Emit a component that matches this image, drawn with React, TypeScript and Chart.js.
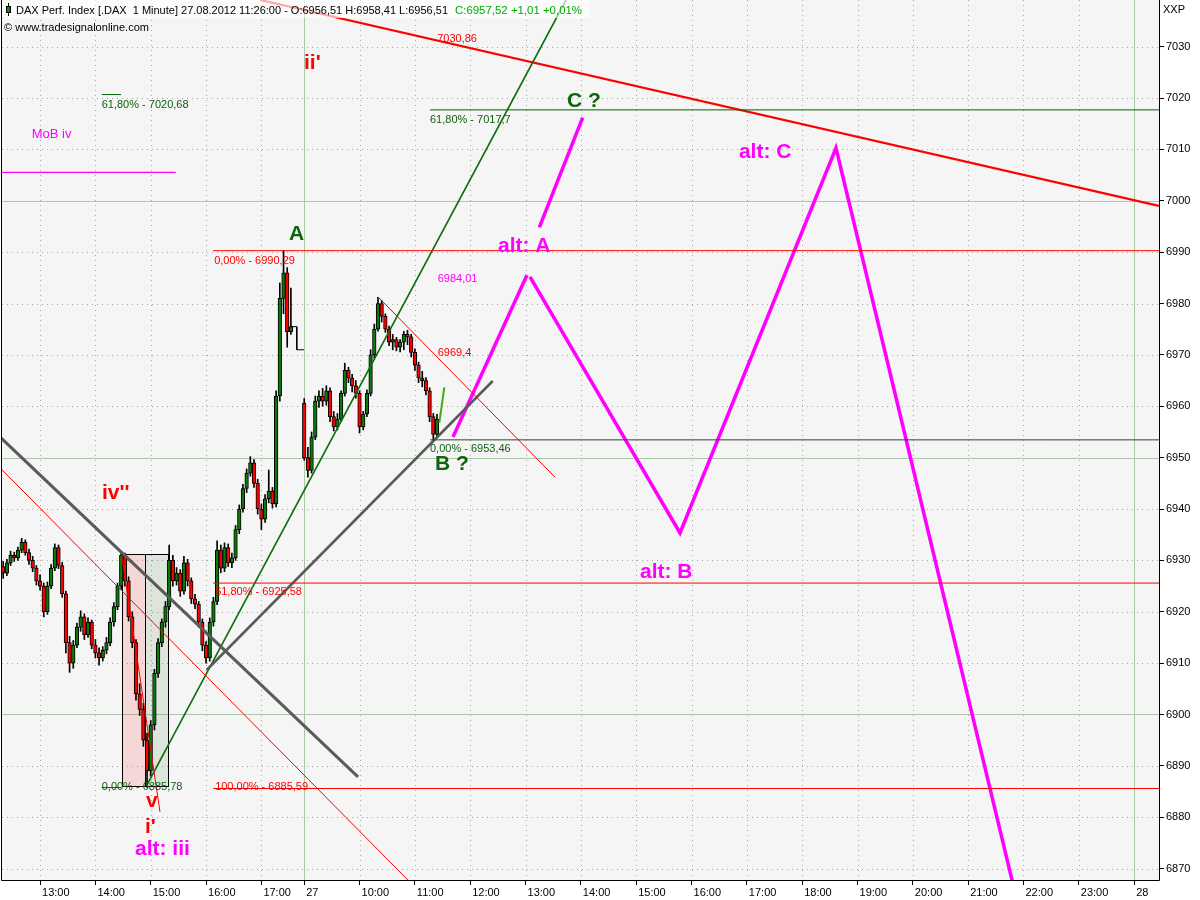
import React, { useEffect, useRef } from 'react';
import { Chart, registerables } from 'chart.js';

Chart.register(...registerables);

const FONT = '"Liberation Sans", Arial, Helvetica, sans-serif';
const RED = '#ff0000';
const DKGREEN = '#006400';
const LBLGREEN = '#0e5e0e';
const MAGENTA = '#ff00ff';
const GRAY = '#5a5a5a';
const UP = '#0a7a0a';
const DOWN = '#ff0000';

// ---- axes ----
const Y_MIN = 6867.78;
const Y_MAX = 7039.09;
const yTickValues = [6870, 6880, 6890, 6900, 6910, 6920, 6930, 6940, 6950, 6960, 6970, 6980, 6990, 7000, 7010, 7020, 7030];

// x = hours on a continuous session timeline (27.08 09:00 = 9)
const PREV_DAY_SHIFT = 8.774;
const X_MIN = 3.538;
const X_MAX = 24.449;
const prevDayTickHours = [13, 14, 15, 16, 17];
const day27TickHours = [9, 10, 11, 12, 13, 14, 15, 16, 17, 18, 19, 20, 21, 22, 23, 24];
const xTickLabels = ['13:00', '14:00', '15:00', '16:00', '17:00', '27', '10:00', '11:00', '12:00', '13:00', '14:00', '15:00', '16:00', '17:00', '18:00', '19:00', '20:00', '21:00', '22:00', '23:00', '28'];
const xTickValues = [...prevDayTickHours.map((h) => h - PREV_DAY_SHIFT), ...day27TickHours];

// ---- candles [open, high, low, close] ----
const prevDayStartHour = 12 + 20 / 60;
const day27StartHour = 9;
const barMinutes = 4;

const prevDayBars = [
  [6928.8, 6929.8, 6926.5, 6927.5], [6927.5, 6930.2, 6927.0, 6929.5], [6929.5, 6931.8, 6929.0, 6931.0], [6931.0, 6931.6, 6929.8, 6930.5],
  [6930.5, 6932.6, 6930.0, 6932.0], [6932.0, 6934.3, 6931.5, 6933.5], [6933.5, 6934.0, 6931.0, 6931.5], [6931.5, 6932.2, 6929.2, 6930.0],
  [6930.0, 6930.8, 6927.8, 6928.5], [6928.5, 6929.0, 6925.2, 6926.0], [6926.0, 6927.2, 6924.2, 6925.0], [6925.0, 6925.6, 6919.0, 6920.0],
  [6920.0, 6925.8, 6919.5, 6925.0], [6925.0, 6929.2, 6924.5, 6928.5], [6928.5, 6933.2, 6928.0, 6932.5], [6932.5, 6933.0, 6928.4, 6929.0],
  [6929.0, 6929.6, 6922.8, 6923.5], [6923.5, 6924.0, 6912.0, 6914.0], [6914.0, 6915.2, 6908.2, 6910.0], [6910.0, 6914.4, 6909.0, 6913.5],
  [6913.5, 6917.8, 6913.0, 6917.0], [6917.0, 6920.2, 6916.2, 6919.0], [6919.0, 6919.6, 6914.6, 6915.5], [6915.5, 6918.8, 6915.0, 6918.0],
  [6918.0, 6918.4, 6912.8, 6913.5], [6913.5, 6914.6, 6911.0, 6912.0], [6912.0, 6913.0, 6909.6, 6911.0], [6911.0, 6913.2, 6910.4, 6912.5],
  [6912.5, 6915.0, 6911.8, 6914.0], [6914.0, 6918.8, 6913.4, 6918.0], [6918.0, 6921.8, 6917.2, 6921.0], [6921.0, 6925.6, 6920.4, 6925.0],
  [6925.0, 6931.5, 6924.4, 6931.0], [6931.0, 6931.4, 6925.0, 6926.0], [6926.0, 6926.8, 6918.2, 6919.0], [6919.0, 6920.0, 6913.0, 6914.0],
  [6914.0, 6914.6, 6902.8, 6904.0], [6904.0, 6906.0, 6899.8, 6901.0], [6901.0, 6902.2, 6893.8, 6895.0], [6895.0, 6896.4, 6885.8, 6889.0],
  [6889.0, 6898.8, 6888.0, 6898.0], [6898.0, 6908.8, 6897.0, 6908.0], [6908.0, 6914.8, 6907.2, 6914.0], [6914.0, 6918.6, 6913.2, 6918.0],
  [6918.0, 6922.0, 6917.0, 6921.0], [6921.0, 6933.0, 6920.4, 6930.0], [6930.0, 6931.0, 6925.0, 6926.0], [6926.0, 6928.6, 6925.2, 6927.5],
  [6927.5, 6928.2, 6923.0, 6924.0], [6924.0, 6930.8, 6923.4, 6929.5], [6929.5, 6930.2, 6925.0, 6926.0], [6926.0, 6926.6, 6921.6, 6922.5],
  [6922.5, 6923.4, 6920.6, 6921.5], [6921.5, 6922.0, 6917.0, 6918.0], [6918.0, 6918.6, 6912.4, 6913.5], [6913.5, 6914.2, 6910.0, 6911.0],
  [6911.0, 6918.8, 6910.4, 6918.0], [6918.0, 6922.8, 6917.2, 6922.0], [6922.0, 6933.8, 6921.4, 6932.0], [6932.0, 6933.0, 6927.6, 6928.5],
  [6928.5, 6933.4, 6927.8, 6932.5], [6932.5, 6933.2, 6928.8, 6929.5], [6929.5, 6931.4, 6928.6, 6930.5], [6930.5, 6936.8, 6930.0, 6936.0],
  [6936.0, 6940.8, 6935.2, 6940.0], [6940.0, 6944.8, 6939.4, 6944.0], [6944.0, 6947.8, 6943.2, 6947.0], [6947.0, 6950.2, 6946.4, 6949.0],
  [6949.0, 6949.6, 6944.2, 6945.0], [6945.0, 6945.8, 6939.0, 6940.0], [6940.0, 6941.0, 6936.0, 6938.0], [6938.0, 6942.8, 6937.4, 6942.0],
  [6942.0, 6947.6, 6941.2, 6943.5], [6943.5, 6944.2, 6940.2, 6941.0], [6941.0, 6963.0, 6940.4, 6962.0], [6962.0, 6984.0, 6961.0, 6981.0],
  [6981.0, 6990.3, 6978.0, 6986.0], [6986.0, 6987.0, 6971.5, 6974.5], [6974.5, 6983.0, 6974.0, 6975.5],
];

// after-close prints of the previous session: [session hour, price]
const afterClosePrints = [[17.53, 6975.5], [17.64, 6975.5], [17.64, 6971.0], [17.77, 6971.0]];

const day27Bars = [
  [6960.6, 6961.5, 6949.5, 6950.0], [6950.0, 6952.0, 6946.2, 6947.5], [6947.5, 6955.0, 6947.0, 6954.0], [6954.0, 6962.0, 6953.5, 6961.0],
  [6961.0, 6963.0, 6959.8, 6962.0], [6962.0, 6963.5, 6960.0, 6961.0], [6961.0, 6964.0, 6960.2, 6963.0], [6963.0, 6963.6, 6957.0, 6958.0],
  [6958.0, 6959.0, 6955.2, 6956.0], [6956.0, 6958.6, 6955.4, 6957.5], [6957.5, 6963.0, 6957.0, 6962.5], [6962.5, 6968.4, 6962.0, 6967.0],
  [6967.0, 6967.6, 6964.6, 6965.5], [6965.5, 6966.2, 6962.8, 6964.0], [6964.0, 6965.0, 6961.6, 6962.5], [6962.5, 6963.0, 6954.8, 6956.0],
  [6956.0, 6959.0, 6955.4, 6958.5], [6958.5, 6963.2, 6958.0, 6962.5], [6962.5, 6971.0, 6962.0, 6970.0], [6970.0, 6976.0, 6969.4, 6975.0],
  [6975.0, 6981.2, 6974.6, 6980.0], [6980.0, 6980.6, 6976.4, 6977.5], [6977.5, 6978.0, 6974.4, 6975.0], [6975.0, 6975.6, 6971.8, 6972.5],
  [6972.5, 6974.0, 6971.0, 6973.0], [6973.0, 6973.4, 6970.8, 6971.5], [6971.5, 6973.0, 6970.6, 6972.5], [6972.5, 6974.6, 6971.0, 6974.0],
  [6974.0, 6974.8, 6972.0, 6973.5], [6973.5, 6974.0, 6969.6, 6970.5], [6970.5, 6971.2, 6967.0, 6968.0], [6968.0, 6968.6, 6964.6, 6965.5],
  [6965.5, 6966.8, 6963.8, 6965.0], [6965.0, 6965.6, 6962.2, 6963.0], [6963.0, 6963.6, 6957.0, 6958.0], [6958.0, 6958.6, 6953.46, 6954.5],
  [6954.5, 6958.41, 6954.0, 6957.52],
];

// ---- drawn analysis lines: [time, price] points ----
const redResistance = [[8.205, 7039.09], [24.449, 6999.0]];
const greenTrend = [[6.159, 6886.3], [13.731, 7039.09]];
const grayLine1 = [[3.502, 6954.02], [9.972, 6887.84]];
const grayLine2 = [[7.238, 6908.66], [12.407, 6964.92]];
const redThinLong = [[3.502, 6948.03], [11.0, 6866.4]];
const redSteep = [[5.702, 6931.05], [6.394, 6881.02]];
const redFromPeak = [[10.334, 6981.3], [13.533, 6946.2]];
const magentaA = [[11.689, 6954.0], [13.027, 6985.55]];
const magentaABC = [[13.081, 6985.17], [15.792, 6935.33], [18.611, 7010.28], [21.832, 6866.0]];
const magentaC = [[13.249, 6994.84], [14.033, 7016.18]];
const lightGreenTick = [[11.442, 6956.8], [11.532, 6963.7]];
const fib7017 = [[11.273, 7017.7], [24.449, 7017.7]];
const fib6990 = [[7.354, 6990.29], [24.449, 6990.29]];
const fib6953 = [[11.273, 6953.46], [24.449, 6953.46]];
const fib6925 = [[7.354, 6925.58], [24.449, 6925.58]];
const fib6885 = [[7.354, 6885.59], [24.449, 6885.59]];
const low6885 = [[5.34, 6885.78], [5.689, 6885.78]];
const fib7020 = [[5.34, 7020.68], [5.689, 7020.68]];
const mobIv = [[3.538, 7005.55], [6.678, 7005.55]];

// boxes: [t0, t1, pLow, pHigh]
const pinkBox = [5.712, 6.123, 6886.1, 6931.2];
const greenBox = [6.123, 6.544, 6886.1, 6931.2];

// labels: [text, time, price]
const bigRed = [["ii'", 8.996, 7025.66], ["iv''", 5.346, 6941.95], ['v', 6.141, 6882.0], ["i'", 6.123, 6876.93]];
const bigGreen = [['A', 8.727, 6992.37], ['B ?', 11.363, 6947.6], ['C ?', 13.749, 7018.26]];
const bigMagenta = [['alt: iii', 5.942, 6872.65], ['alt: A', 12.503, 6990.03], ['alt: B', 15.069, 6926.6], ['alt: C', 16.857, 7008.33]];
const smallRed = [['7030,86', 11.403, 7030.92], ['0,00% - 6990,29', 7.372, 6987.7], ['6969,4', 11.413, 6969.79], ['61,80% - 6925,58', 7.39, 6923.27], ['100,00% - 6885,59', 7.39, 6885.3]];
const smallGreen = [['61,80% - 7017,7', 11.273, 7015.05], ['0,00% - 6953,46', 11.273, 6951.16], ['0,00% - 6885,78', 5.34, 6885.3], ['61,80% - 7020,68', 5.34, 7018.0]];
const smallMagenta = [['6984,01', 11.413, 6984.25]];
const mobLabel = ['MoB iv', 4.075, 7012.17];

const headerMain = 'DAX Perf. Index [.DAX  1 Minute] 27.08.2012 11:26:00 - O:6956,51 H:6958,41 L:6956,51';
const headerQuote = 'C:6957,52 +1,01 +0,01%';
const copyright = '\u00A9 www.tradesignalonline.com';

function buildCandles() {
  const out = [];
  prevDayBars.forEach((b, i) => out.push({ t: prevDayStartHour + (i * barMinutes) / 60 - PREV_DAY_SHIFT, b }));
  day27Bars.forEach((b, i) => out.push({ t: day27StartHour + (i * barMinutes) / 60, b }));
  return out;
}

function seg(pts, color, width) {
  return {
    type: 'line',
    data: pts.map(([x, y]) => ({ x, y })),
    borderColor: color,
    borderWidth: width,
    pointRadius: 0,
    pointHoverRadius: 0,
    fill: false,
    tension: 0,
    order: -1,
    borderCapStyle: 'butt',
  };
}

function drawText(ctx, text, x, y, font, color, targetW) {
  ctx.save();
  ctx.font = font;
  ctx.fillStyle = color;
  ctx.textAlign = 'left';
  ctx.textBaseline = 'alphabetic';
  if (targetW) {
    const w = ctx.measureText(text).width;
    ctx.translate(x, y);
    ctx.scale(targetW / w, 1);
    ctx.fillText(text, 0, 0);
  } else {
    ctx.fillText(text, x, y);
  }
  ctx.restore();
}

const decorPlugin = {
  id: 'decor',
  beforeDraw(chart) {
    const { ctx, chartArea: a } = chart;
    ctx.save();
    ctx.fillStyle = '#ffffff';
    ctx.fillRect(0, 0, chart.width, chart.height);
    ctx.fillStyle = '#f5f5f5';
    ctx.fillRect(a.left, a.top, a.right - a.left, a.bottom - a.top);
    ctx.restore();
  },
  beforeDatasetsDraw(chart) {
    const { ctx, chartArea: a, scales } = chart;
    const xs = scales.x;
    const ys = scales.y;
    ctx.save();
    ctx.lineWidth = 1;
    yTickValues.forEach((v) => {
      const y = Math.round(ys.getPixelForValue(v)) + 0.5;
      ctx.beginPath();
      if (v % 50 === 0) {
        ctx.setLineDash([]);
        ctx.strokeStyle = '#abc7a7';
      } else {
        ctx.setLineDash([1, 4]);
        ctx.strokeStyle = '#a8a8a8';
      }
      ctx.moveTo(a.left, y);
      ctx.lineTo(a.right, y);
      ctx.stroke();
    });
    xTickValues.forEach((t, i) => {
      const x = Math.round(xs.getPixelForValue(t)) + 0.5;
      const dayLine = xTickLabels[i] === '27' || xTickLabels[i] === '28';
      ctx.beginPath();
      if (dayLine) {
        ctx.setLineDash([]);
        ctx.strokeStyle = '#abc7a7';
      } else {
        ctx.setLineDash([1, 4]);
        ctx.strokeStyle = '#a8a8a8';
      }
      ctx.moveTo(x, a.top);
      ctx.lineTo(x, a.bottom);
      ctx.stroke();
    });
    ctx.setLineDash([]);
    const box = (bx, fill) => {
      const x0 = Math.round(xs.getPixelForValue(bx[0])) + 0.5;
      const x1 = Math.round(xs.getPixelForValue(bx[1])) + 0.5;
      const y0 = Math.round(ys.getPixelForValue(bx[3])) + 0.5;
      const y1 = Math.round(ys.getPixelForValue(bx[2])) + 0.5;
      ctx.fillStyle = fill;
      ctx.fillRect(x0, y0, x1 - x0, y1 - y0);
      ctx.strokeStyle = '#000';
      ctx.strokeRect(x0, y0, x1 - x0, y1 - y0);
    };
    box(pinkBox, 'rgba(255,0,0,0.12)');
    box(greenBox, 'rgba(0,80,0,0.10)');
    ctx.restore();
  },
  afterDatasetsDraw(chart) {
    const { ctx, chartArea: a, scales } = chart;
    const xs = scales.x;
    const ys = scales.y;
    const P = (t) => xs.getPixelForValue(t);
    const Q = (v) => ys.getPixelForValue(v);
    ctx.save();
    ctx.strokeStyle = '#000';
    ctx.lineWidth = 1;
    ctx.beginPath();
    ctx.moveTo(1.5, 0);
    ctx.lineTo(1.5, a.bottom + 0.5);
    ctx.lineTo(a.right + 0.5, a.bottom + 0.5);
    ctx.lineTo(a.right + 0.5, 0);
    ctx.stroke();

    const big = 'bold 21px ' + FONT;
    const small = '11px ' + FONT;
    bigRed.forEach(([s, t, v]) => drawText(ctx, s, P(t), Q(v), big, RED));
    bigGreen.forEach(([s, t, v]) => drawText(ctx, s, P(t), Q(v), big, '#0f650f'));
    bigMagenta.forEach(([s, t, v]) => drawText(ctx, s, P(t), Q(v), big, MAGENTA));
    smallRed.forEach(([s, t, v]) => drawText(ctx, s, P(t), Q(v), small, RED));
    smallGreen.forEach(([s, t, v]) => drawText(ctx, s, P(t), Q(v), small, LBLGREEN));
    smallMagenta.forEach(([s, t, v]) => drawText(ctx, s, P(t), Q(v), small, MAGENTA));
    drawText(ctx, mobLabel[0], P(mobLabel[1]), Q(mobLabel[2]), '13px ' + FONT, MAGENTA);

    ctx.fillStyle = 'rgba(255,255,255,0.65)';
    ctx.fillRect(2, 0, 588, 18);
    ctx.fillStyle = '#000';
    ctx.fillRect(8, 3, 1, 13);
    ctx.fillStyle = '#0a8a0a';
    ctx.fillRect(6, 6, 5, 7);
    ctx.strokeStyle = '#000';
    ctx.strokeRect(6.5, 6.5, 4, 6);
    drawText(ctx, headerMain, 16, 14, small, '#000', 432);
    drawText(ctx, headerQuote, 455, 14, small, '#00aa00', 127);
    drawText(ctx, copyright, 4, 31, small, '#000', 145);
    drawText(ctx, 'XXP', 1163, 13, small, '#000');
    ctx.restore();
  },
};

export default function App() {
  const ref = useRef(null);
  useEffect(() => {
    const canvas = ref.current;
    if (!canvas) return;
    const candles = buildCandles();
    const wickDs = {
      type: 'bar',
      data: candles.map((c) => ({ x: c.t, y: [c.b[2], c.b[1]] })),
      backgroundColor: '#000',
      borderWidth: 0,
      barThickness: 1,
      grouped: false,
      order: 2,
    };
    const bodyDs = {
      type: 'bar',
      data: candles.map((c) => ({ x: c.t, y: [c.b[0], c.b[3]] })),
      backgroundColor: candles.map((c) => (c.b[3] > c.b[0] ? UP : c.b[3] < c.b[0] ? DOWN : '#000')),
      borderColor: '#000',
      borderWidth: 1,
      borderSkipped: false,
      barThickness: 3.6,
      minBarLength: 1,
      grouped: false,
      order: 1,
    };
    const afterClose = {
      ...seg(afterClosePrints.map(([h, p]) => [h - PREV_DAY_SHIFT, p]), '#000', 1),
      order: 0,
    };
    const lines = [
      seg(fib7017, DKGREEN, 1),
      seg(fib6990, RED, 1),
      seg(fib6953, '#2f452f', 1),
      seg(fib6925, RED, 1),
      seg(fib6885, RED, 1),
      seg(low6885, DKGREEN, 1),
      seg(fib7020, DKGREEN, 1),
      seg(mobIv, MAGENTA, 1.2),
      seg(redThinLong, RED, 1),
      seg(redSteep, RED, 1),
      seg(redFromPeak, RED, 1),
      seg(grayLine1, GRAY, 3),
      seg(grayLine2, GRAY, 2.5),
      seg(greenTrend, '#0a6e0a', 1.6),
      seg(redResistance, RED, 2.2),
      seg(lightGreenTick, '#44aa11', 2),
      seg(magentaA, MAGENTA, 3.5),
      seg(magentaABC, MAGENTA, 3.5),
      seg(magentaC, MAGENTA, 3.5),
    ];
    const chart = new Chart(canvas, {
      type: 'bar',
      data: { datasets: [wickDs, bodyDs, afterClose, ...lines] },
      options: {
        animation: false,
        responsive: false,
        maintainAspectRatio: false,
        devicePixelRatio: 1,
        events: [],
        layout: { padding: { left: 2, top: 0, right: 0, bottom: 0 } },
        plugins: { legend: { display: false }, tooltip: { enabled: false } },
        scales: {
          x: {
            type: 'linear',
            position: 'bottom',
            min: X_MIN,
            max: X_MAX,
            offset: false,
            grid: { display: true, offset: false, drawOnChartArea: false, drawTicks: true, tickLength: 5, color: '#000', lineWidth: 1 },
            border: { display: false },
            ticks: {
              autoSkip: false,
              maxRotation: 0,
              minRotation: 0,
              align: 'start',
              labelOffset: 2,
              padding: 1,
              color: '#000',
              font: { family: FONT, size: 11 },
              callback: (v, i) => xTickLabels[i],
            },
            afterBuildTicks: (s) => {
              s.ticks = xTickValues.map((v) => ({ value: v }));
            },
            afterFit: (s) => {
              s.height = 20;
              s.paddingLeft = 0;
              s.paddingRight = 0;
              s.paddingTop = 0;
              s.paddingBottom = 0;
            },
          },
          y: {
            type: 'linear',
            position: 'right',
            min: Y_MIN,
            max: Y_MAX,
            grid: { display: true, drawOnChartArea: false, drawTicks: true, tickLength: 5, color: '#000', lineWidth: 1 },
            border: { display: false },
            ticks: {
              padding: 2,
              color: '#000',
              font: { family: FONT, size: 11 },
              callback: (v) => String(v),
            },
            afterBuildTicks: (s) => {
              s.ticks = yTickValues.map((v) => ({ value: v }));
            },
            afterFit: (s) => {
              s.width = 41;
              s.paddingLeft = 0;
              s.paddingRight = 0;
              s.paddingTop = 0;
              s.paddingBottom = 0;
            },
          },
        },
      },
      plugins: [decorPlugin],
    });
    return () => chart.destroy();
  }, []);
  return (
    <div style={{ position: 'absolute', left: 0, top: 0, width: 1200, height: 900, background: '#fff' }}>
      <canvas ref={ref} width={1200} height={900} style={{ display: 'block', width: 1200, height: 900 }} />
    </div>
  );
}
